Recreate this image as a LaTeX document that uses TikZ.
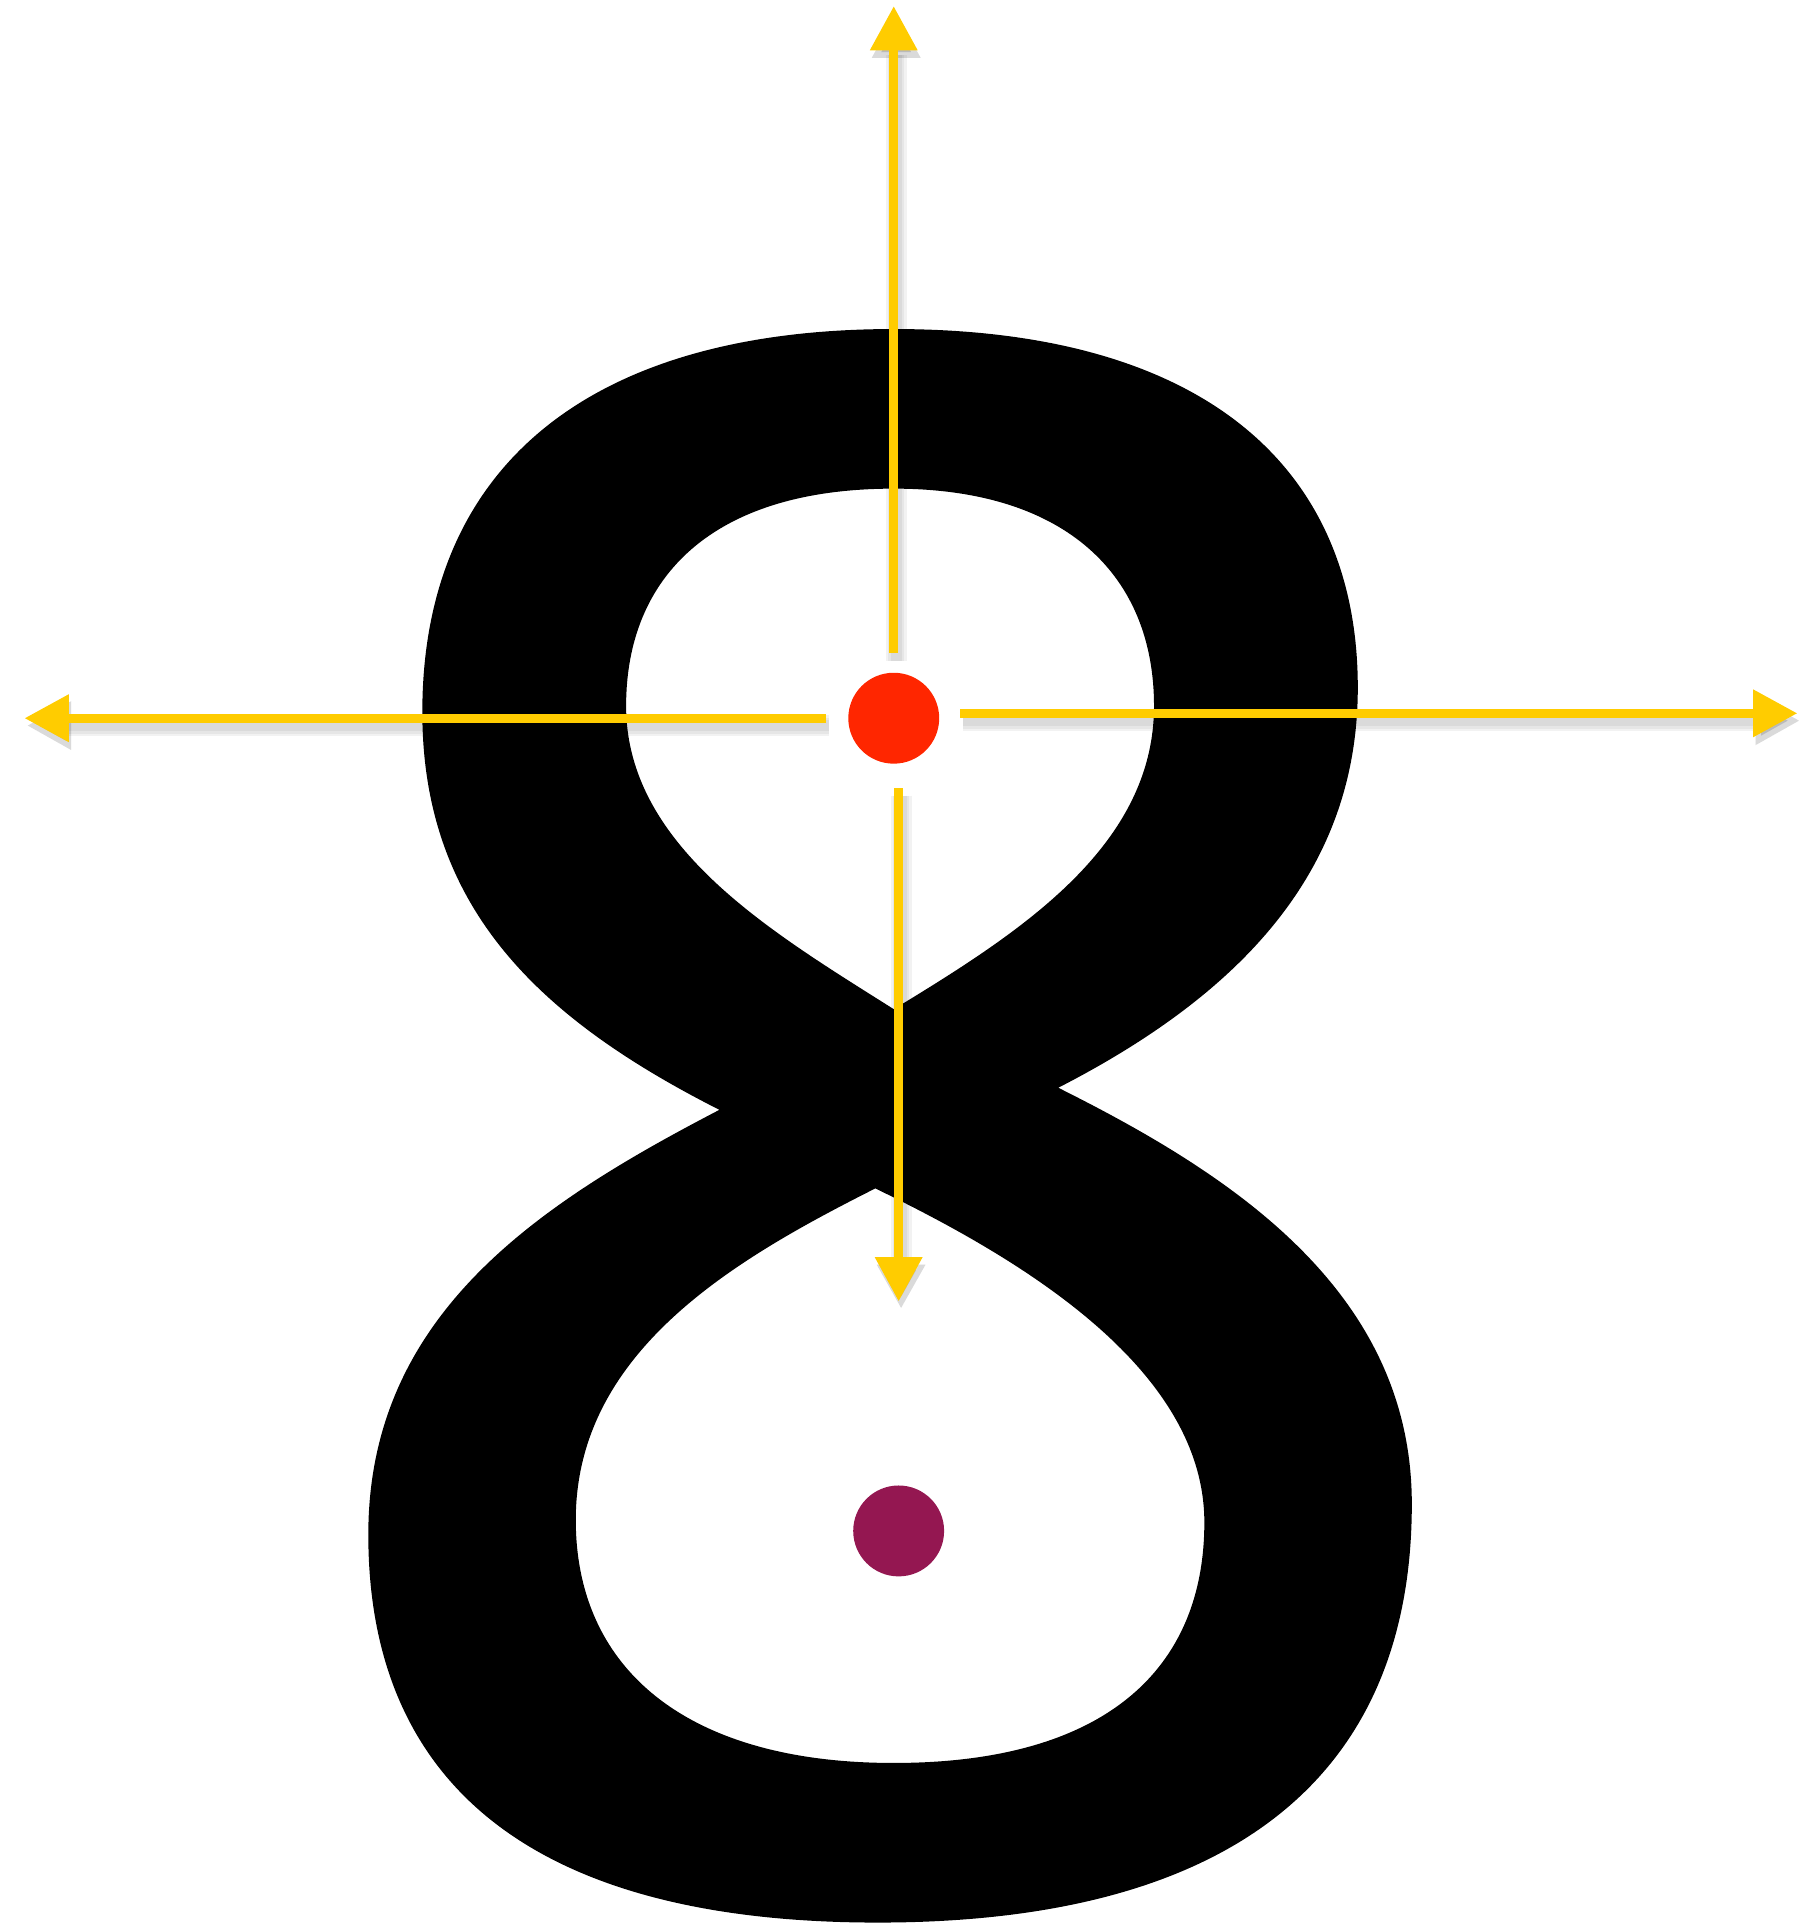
\documentclass[tikz,border=0pt]{standalone}
\usetikzlibrary{arrows.meta}

\definecolor{rayyellow}{HTML}{FFCC00}
\definecolor{dotred}{HTML}{FF2600}
\definecolor{dotplum}{HTML}{941751}

\tikzset{
  ray/.style={draw=rayyellow, line width=0.07cm,
    -{Triangle[length=0.36cm, width=0.37cm]}},
  haze/.style={draw=black, opacity=0.05, line width=#1,
    -{Triangle[length=0.36cm, width=0.37cm]},
    transform canvas={shift={(0.02cm,-0.06cm)}}},
  spot/.style={circle, inner sep=0pt, minimum size=0.74cm},
}

\begin{document}
\begin{tikzpicture}[x=0.01cm, y=-0.01cm]
  \useasboundingbox (0,0) rectangle (1465,1568);

  % the figure eight, counters cut out with even odd
  \fill[black, even odd rule]
    % outer contour
    (728,268) .. controls (980,268) and (1106,380) .. (1106,560)
              .. controls (1106,710) and (1010,810) .. (862,886)
              .. controls (1000,955) and (1150,1050) .. (1150,1225)
              .. controls (1150,1450) and (1000,1566) .. (715,1566)
              .. controls (430,1566) and (300,1450) .. (300,1250)
              .. controls (300,1070) and (440,980) .. (586,904)
              .. controls (440,830) and (344,740) .. (344,580)
              .. controls (344,380) and (480,268) .. (728,268) -- cycle
    % upper counter
    (728,398) .. controls (870,398) and (940,470) .. (940,575)
              .. controls (940,690) and (830,760) .. (728,822)
              .. controls (630,760) and (510,690) .. (510,575)
              .. controls (510,470) and (580,398) .. (728,398) -- cycle
    % lower counter
    (713,968) .. controls (820,1020) and (981,1110) .. (981,1240)
              .. controls (981,1360) and (900,1436) .. (728,1436)
              .. controls (560,1436) and (469,1360) .. (469,1238)
              .. controls (469,1100) and (600,1025) .. (713,968) -- cycle;

  \node[spot, fill=dotred]  (centre) at (728,585) {};
  \node[spot, fill=dotplum] (lower)  at (732,1247) {};

  \coordinate (upS)    at (728,532);
  \coordinate (upE)    at (728,5);
  \coordinate (leftS)  at (673,585);
  \coordinate (leftE)  at (20,585);
  \coordinate (rightS) at (782,581);
  \coordinate (rightE) at (1464,581);
  \coordinate (downS)  at (732,642);
  \coordinate (downE)  at (732,1060);

  % soft shadow under the rays
  \foreach \w in {0.09cm, 0.13cm, 0.17cm}
    \foreach \s/\e in {upS/upE, leftS/leftE, rightS/rightE, downS/downE}
      \draw[haze=\w] (\s) -- (\e);
  \foreach \s/\e in {upS/upE, leftS/leftE, rightS/rightE, downS/downE}
    \draw[ray] (\s) -- (\e);
\end{tikzpicture}
\end{document}
